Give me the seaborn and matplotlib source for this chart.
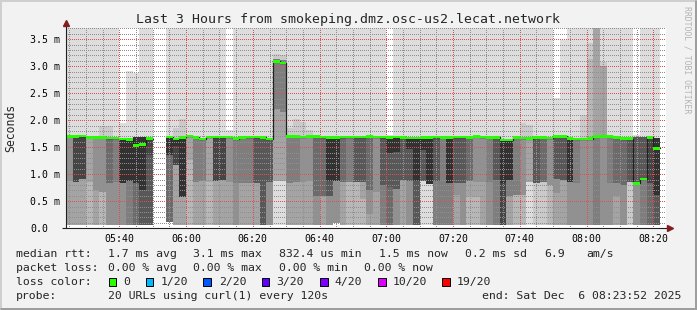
import numpy as np
import pandas as pd
import matplotlib
matplotlib.use("Agg")
import matplotlib.pyplot as plt
import seaborn as sns
from matplotlib.ticker import MultipleLocator, FixedLocator
from matplotlib.lines import Line2D
from matplotlib.patches import Rectangle

# ------------------------------------------------------------------ data
# time axis in minutes after 05:00; bins of 120 s starting at 05:24
first_bin_min = 24
bin_min = 2
window_start_min = 23 + 52 / 60      # 05:23:52
window_end_min = 203 + 52 / 60       # 08:23:52

# median RTT per bin (ms); None = no data
median_ms = [1.70, 1.70, 1.71, 1.68, 1.68, 1.68, 1.67, 1.67, 1.65, 1.645,
             1.53, 1.55, 1.66, None, None, 1.69, 1.65, 1.68, 1.71, 1.68,
             1.65, 1.69, 1.69, 1.69, 1.69, 1.66, 1.68, 1.69, 1.69, 1.68,
             1.655, 3.09, 3.06, 1.70, 1.70, 1.69, 1.70, 1.70, 1.69, 1.68,
             1.68, 1.69, 1.69, 1.69, 1.69, 1.70, 1.69, 1.69, 1.68, 1.69,
             1.68, 1.67, 1.67, 1.68, 1.68, 1.69, 1.68, 1.68, 1.69, 1.69,
             1.68, 1.70, 1.69, 1.68, 1.68, 1.63, 1.63, 1.68, 1.67, 1.66,
             1.68, 1.68, 1.67, 1.70, 1.70, 1.66, 1.65, 1.65, 1.66, 1.70,
             1.70, 1.70, 1.68, 1.66, 1.66, 0.83, 0.91, 1.68, 1.48]

# lowest ping per bin (ms)
min_ms = [0.07] * 15 + [0.12] + [0.07] * 24 + [0.10] + [0.07] * 48

# smoke below the median: three bands (upper cut / lower cut, smoke layer rank 1..10)
cut_hi = [0.87, 0.85, 0.91, 0.85, 0.71, 0.68, 0.83, 0.85, 0.83, 0.87,
          0.83, 0.71, 1.35, None, None, 1.36, 1.52, 0.58, 1.26, 0.86,
          0.87, 0.86, 0.87, 0.90, 0.86, 0.83, 0.83, 0.83, 0.83, 0.07,
          0.85, 2.20, 2.16, 0.83, 0.86, 0.86, 0.88, 0.59, 0.59, 0.88,
          0.88, 0.86, 0.85, 0.85, 0.85, 0.70, 0.68, 0.80, 1.40, 1.42,
          0.90, 1.47, 0.87, 1.45, 0.82, 0.88, 0.07, 0.83, 0.83, 0.84,
          0.88, 0.86, 0.86, 0.86, 0.89, 0.83, 0.89, 0.62, 0.62, 0.86,
          0.83, 0.86, 0.80, 0.92, 0.89, 0.86, 0.83, 0.07, 0.07, 0.07,
          0.07, 0.84, 0.83, 0.80, 0.86, 0.07, 0.07, 0.83, 0.62]
rank_hi = [5, 9, 9, 4, 5, 5, 7, 6, 10, 10,
           10, 10, 9, 0, 0, 10, 10, 10, 4, 6,
           6, 4, 9, 9, 5, 6, 6, 6, 8, 8,
           8, 6, 6, 6, 6, 5, 5, 7, 7, 10,
           10, 7, 6, 8, 8, 7, 5, 8, 10, 10,
           8, 10, 10, 10, 10, 8, 6, 10, 8, 8,
           7, 5, 5, 6, 8, 10, 10, 6, 5, 4,
           8, 7, 5, 8, 8, 10, 6, 5, 5, 6,
           5, 6, 7, 7, 8, 5, 6, 9, 10]
cut_lo = [0.87, 0.85, 0.91, 0.85, 0.71, 0.68, 0.83, 0.85, 0.83, 0.87,
          0.83, 0.71, 1.35, None, None, 1.36, 1.17, 0.58, 1.26, 0.86,
          0.87, 0.86, 0.87, 0.90, 0.86, 0.83, 0.83, 0.83, 0.83, 0.07,
          0.85, 0.87, 0.87, 0.83, 0.86, 0.86, 0.88, 0.59, 0.59, 0.60,
          0.88, 0.86, 0.85, 0.85, 0.55, 0.27, 0.68, 0.80, 0.77, 0.73,
          0.90, 0.87, 0.87, 0.87, 0.82, 0.88, 0.07, 0.83, 0.62, 0.84,
          0.58, 0.58, 0.86, 0.86, 0.89, 0.83, 0.59, 0.62, 0.62, 0.86,
          0.83, 0.86, 0.80, 0.65, 0.89, 0.86, 0.83, 0.07, 0.07, 0.07,
          0.07, 0.84, 0.59, 0.80, 0.86, 0.07, 0.07, 0.83, 0.62]
rank_mid = [4, 4, 4, 3, 4, 3, 5, 5, 5, 6,
            7, 8, 8, 0, 0, 7, 9, 4, 3, 4,
            4, 3, 4, 4, 4, 5, 4, 4, 4, 8,
            5, 4, 4, 4, 4, 4, 4, 5, 4, 8,
            5, 4, 3, 3, 4, 5, 4, 6, 8, 8,
            4, 8, 8, 8, 1, 6, 6, 6, 5, 5,
            4, 4, 4, 5, 6, 9, 6, 3, 3, 1,
            2, 2, 3, 5, 4, 5, 5, 5, 5, 6,
            5, 5, 5, 5, 2, 5, 6, 7, 8]
rank_lo = [4, 4, 4, 3, 4, 3, 5, 5, 5, 6,
           7, 8, 8, 0, 0, 7, 4, 4, 3, 4,
           4, 3, 4, 4, 4, 5, 4, 4, 4, 8,
           5, 1, 1, 4, 4, 4, 4, 5, 4, 5,
           5, 4, 3, 3, 3, 4, 4, 6, 7, 5,
           4, 5, 8, 1, 1, 6, 6, 6, 4, 5,
           3, 3, 4, 5, 6, 9, 4, 3, 3, 1,
           2, 2, 3, 4, 4, 5, 5, 5, 5, 6,
           5, 5, 4, 5, 2, 5, 6, 7, 8]

# smoke above the median: second-highest ping band, inner band, highest ping
upper_band_ms = {5: 1.90, 6: 1.90, 16: 1.85, 17: 2.03, 31: 3.22, 32: 3.20,
                 33: 1.85, 34: 2.03, 35: 1.97, 36: 1.82, 68: 1.94, 69: 1.91,
                 77: 2.10, 78: 3.42, 79: 4.00, 80: 3.08}
inner_band_ms = {10: 1.69, 11: 1.69, 31: 3.14, 32: 3.12, 78: 3.14, 79: 4.00,
                 80: 3.00, 85: 1.69, 86: 1.68, 88: 1.67}
inner_band_rank = {10: 10, 11: 10, 31: 6, 32: 6, 78: 3, 79: 4, 80: 4,
                   85: 8, 86: 8, 88: 10}
max_ms = {8: 1.95, 9: 2.91, 10: 2.87, 24: 1.82, 48: 1.73, 73: 2.41,
          74: 3.48, 85: 1.72}
max_default_ms = 4.0

tick_minutes = [40, 60, 80, 100, 120, 140, 160, 180, 200]
tick_labels = ["05:40", "06:00", "06:20", "06:40", "07:00",
               "07:20", "07:40", "08:00", "08:20"]
y_ticks = [0.0, 0.5, 1.0, 1.5, 2.0, 2.5, 3.0, 3.5]
y_tick_labels = ["0.0", "0.5 m", "1.0 m", "1.5 m", "2.0 m", "2.5 m", "3.0 m", "3.5 m"]

title = "Last 3 Hours from smokeping.dmz.osc-us2.lecat.network"
legend_rtt = [("median rtt:", 16), ("1.7 ms avg", 107.5), ("3.1 ms max", 193),
              ("832.4 us min", 279), ("1.5 ms now", 379), ("0.2 ms sd", 465),
              ("6.9", 544), ("am/s", 586)]
legend_loss = [("packet loss:", 16), ("0.00 % avg", 107.5), ("0.00 % max", 193),
               ("0.00 % min", 279), ("0.00 % now", 364)]
loss_labels = ["0", "1/20", "2/20", "3/20", "4/20", "10/20", "19/20"]
loss_colors = ["#26ff00", "#00b8ff", "#0059ff", "#5e00ff", "#7e00ff", "#dd00ff", "#ff0000"]
probe_text = "20 URLs using curl(1) every 120s"
end_text = "end: Sat Dec  6 08:23:52 2025"

# ------------------------------------------------------------------ style
W, H = 697, 310
BACK = "#f2f2f2"
SHADEA = "#cfcfcf"
SHADEB = "#9e9e9e"
GRID = (0.56, 0.56, 0.56, 0.50)
MGRID = (0.87, 0.31, 0.31, 0.42)
ARROW = (0.50, 0.12, 0.12)
AXIS = (0.12, 0.12, 0.12)
MONO = "DejaVu Sans Mono"

sns.set_theme(style="white")
plt.rcParams["font.family"] = [MONO, "DejaVu Sans"]


def smoke_color(rank):
    v = int(190 / 10 * (10 - rank)) + 50
    return "#%02x%02x%02x" % (v, v, v)


fig = plt.figure(figsize=(W / 100, H / 100), dpi=100, facecolor=BACK)
ax_l, ax_r, ax_t, ax_b = 65.5, 666.2, 28.3, 228.3
ax = fig.add_axes([ax_l / W, 1 - ax_b / H, (ax_r - ax_l) / W, (ax_b - ax_t) / H])
ax.set_facecolor("white")

idx = [i for i, m in enumerate(median_ms) if m is not None]
x = np.array([first_bin_min + bin_min * i for i in idx], dtype=float)
med = np.array([median_ms[i] for i in idx])
lo = np.array([min_ms[i] for i in idx])
bhi = np.array([cut_hi[i] for i in idx])
blo = np.array([cut_lo[i] for i in idx])
top = np.array([max_ms.get(i, max_default_ms) for i in idx])

bar_kw = dict(width=bin_min, align="edge", linewidth=0, antialiased=False)

# outermost smoke layer (min..max)
ax.bar(x, top - lo, bottom=lo, color=smoke_color(1), zorder=1.0, **bar_kw)
# upper smoke bands
ub = np.array([upper_band_ms.get(i, median_ms[i]) for i in idx])
ax.bar(x, ub - med, bottom=med, color=smoke_color(2), zorder=1.1, **bar_kw)
ib = np.array([inner_band_ms.get(i, median_ms[i]) for i in idx])
ib_c = [smoke_color(inner_band_rank.get(i, 2)) for i in idx]
ax.bar(x, ib - med, bottom=med, color=ib_c, zorder=1.2, **bar_kw)
# lower smoke bands
ax.bar(x, med - lo, bottom=lo, color=[smoke_color(rank_lo[i]) for i in idx], zorder=1.3, **bar_kw)
ax.bar(x, med - blo, bottom=blo, color=[smoke_color(rank_mid[i]) for i in idx], zorder=1.4, **bar_kw)
ax.bar(x, med - bhi, bottom=bhi, color=[smoke_color(rank_hi[i]) for i in idx], zorder=1.5, **bar_kw)

# median outline (black step line) via seaborn, one unit per contiguous segment
rows = []
seg = 0
prev = None
for i in idx:
    if prev is not None and i != prev + 1:
        rows.append((seg, first_bin_min + bin_min * (prev + 1), median_ms[prev]))
        seg += 1
    rows.append((seg, first_bin_min + bin_min * i, median_ms[i]))
    prev = i
rows.append((seg, first_bin_min + bin_min * (prev + 1), median_ms[prev]))
df = pd.DataFrame(rows, columns=["seg", "t", "median"])
sns.lineplot(data=df, x="t", y="median", units="seg", estimator=None, sort=False,
             drawstyle="steps-post", color="#202020", linewidth=0.9, ax=ax,
             legend=False, zorder=3)

# median in loss colour (all bins 0 loss)
half = 1.25 / 54.05
ax.bar(x, 2 * half, bottom=med - half, color=loss_colors[0], zorder=4, **bar_kw)

ax.set_xlim(window_start_min, window_end_min)
ax.set_ylim(0, 3.7)
ax.set_xlabel("")
ax.set_ylabel("")

ax.xaxis.set_major_locator(FixedLocator(tick_minutes))
ax.xaxis.set_minor_locator(MultipleLocator(5))
ax.set_xticklabels(tick_labels)
ax.yaxis.set_major_locator(FixedLocator(y_ticks))
ax.yaxis.set_minor_locator(MultipleLocator(0.1))
ax.set_yticklabels(y_tick_labels)

ax.set_axisbelow(False)
ax.grid(which="minor", color=GRID, linestyle=(0, (1, 2)), linewidth=0.72)
ax.grid(which="major", color=MGRID, linestyle=(0, (1, 2)), linewidth=0.72)
for axis in (ax.xaxis, ax.yaxis):
    for t in axis.get_major_ticks() + axis.get_minor_ticks():
        t.gridline.set_antialiased(False)

ax.tick_params(axis="both", which="major", direction="inout", length=3, width=0.7,
               color=AXIS, labelsize=7.1, labelcolor="black")
ax.tick_params(axis="both", which="minor", direction="inout", length=1.6, width=0.6,
               color=AXIS)
ax.tick_params(axis="x", which="major", pad=2.4)
ax.tick_params(axis="y", which="major", pad=24.0)
for lab in ax.get_yticklabels():
    lab.set_horizontalalignment("left")
for s in ax.spines.values():
    s.set_visible(False)

# axes lines with arrows
ax.plot([-0.006, 1.004], [0, 0], transform=ax.transAxes, color=AXIS, lw=0.8,
        clip_on=False, zorder=6, solid_capstyle="butt")
ax.plot([0, 0], [0, 1.02], transform=ax.transAxes, color=AXIS, lw=0.8,
        clip_on=False, zorder=6, solid_capstyle="butt")
ax.plot([1.0065], [0], marker=">", ms=4.2, color=ARROW, mec=ARROW,
        transform=ax.transAxes, clip_on=False, zorder=7)
ax.plot([0], [1.026], marker="^", ms=4.2, color=ARROW, mec=ARROW,
        transform=ax.transAxes, clip_on=False, zorder=7)


def ftext(px, py, s, **kw):
    return fig.text(px / W, 1 - py / H, s, family=MONO, **kw)


ftext(347.5, 19.3, title, fontsize=9.5, ha="center", va="center")
ftext(11, 127.5, "Seconds", fontsize=8.3, rotation=90, ha="center", va="center")
ftext(686.5, 60, "RRDTOOL / TOBI OETIKER", fontsize=5.9, rotation=270,
      ha="center", va="center", color="#b4b4b4")

row_y = [254.3, 268.3, 282.2, 296.0]
for s, px in legend_rtt:
    ftext(px, row_y[0], s, fontsize=8.25, va="center")
for s, px in legend_loss:
    ftext(px, row_y[1], s, fontsize=8.25, va="center")
ftext(16, row_y[2], "loss color:", fontsize=8.25, va="center")
box_x = [108.5, 145.7, 203.3, 261.5, 320.0, 378.0, 442.0]
lab_x = [123.3, 161.0, 218.7, 276.4, 334.5, 393.0, 456.5]
for bx, lx, c, s in zip(box_x, lab_x, loss_colors, loss_labels):
    fig.add_artist(Rectangle((bx / W, 1 - (row_y[2] + 4) / H), 7.6 / W, 8 / H,
                             transform=fig.transFigure, facecolor=c,
                             edgecolor="black", linewidth=0.7))
    ftext(lx, row_y[2], s, fontsize=8.25, va="center")
ftext(16, row_y[3], "probe:", fontsize=8.25, va="center")
ftext(107.5, row_y[3], probe_text, fontsize=8.25, va="center")
ftext(681, row_y[3], end_text, fontsize=8.25, va="center", ha="right")

# 3-D frame
def frame_line(xs, ys, c, lw_px):
    fig.add_artist(Line2D([v / W for v in xs], [1 - v / H for v in ys],
                          transform=fig.transFigure, color=c, lw=lw_px * 0.72,
                          solid_capstyle="butt"))

frame_line([0, W], [1, 1], SHADEA, 2)
frame_line([1, 1], [0, H], SHADEA, 2)
frame_line([0, W], [H - 1.5, H - 1.5], SHADEB, 3)
frame_line([W - 1.5, W - 1.5], [0, H], SHADEB, 3)

fig.savefig("out.png", dpi=100, facecolor=BACK)
